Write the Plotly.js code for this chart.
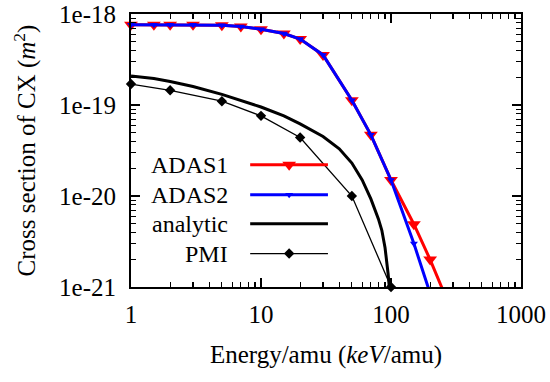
<!DOCTYPE html>
<html>
<head>
<meta charset="utf-8">
<script src="https://cdn.plot.ly/plotly-3.0.1.min.js"></script>
<style>html,body{margin:0;padding:0;background:#fff;}#chart{width:550px;height:382px;}</style>
</head>
<body>
<div id="chart"></div>
<script>
// ---- data ----
const adasEnergy = [1, 1.5, 2, 3, 5, 7, 10, 15, 20, 30, 50, 70, 100, 150, 200, 300];
const adas1 = [7.6e-19, 7.6e-19, 7.6e-19, 7.6e-19, 7.5e-19, 7.3e-19, 6.8e-19, 6.1e-19, 5.3e-19, 3.55e-19, 1.13e-19, 4.7e-20, 1.5e-20, 4.9e-21, 2.0e-21, 5.0e-22];
const adas2Energy = [1, 1.5, 2, 3, 5, 7, 10, 15, 20, 30, 50, 70, 100, 150, 200];
const adas2 = [7.6e-19, 7.6e-19, 7.6e-19, 7.6e-19, 7.5e-19, 7.3e-19, 6.8e-19, 6.1e-19, 5.3e-19, 3.55e-19, 1.13e-19, 4.7e-20, 1.5e-20, 3.0e-21, 8.5e-22];
const analyticEnergy = [1, 1.5, 2, 3, 5, 7, 10, 15, 20, 30, 40, 50, 60, 70, 80, 85, 90, 95, 97, 99];
const analytic = [2.08e-19, 1.95e-19, 1.81e-19, 1.6e-19, 1.31e-19, 1.12e-19, 9.5e-20, 7.6e-20, 6.2e-20, 4.5e-20, 3.3e-20, 2.3e-20, 1.5e-20, 9.3e-21, 5.6e-21, 4.2e-21, 2.7e-21, 1.4e-21, 1.0e-21, 4e-22];
const pmiEnergy = [1, 2, 5, 10, 20, 50, 100];
const pmi = [1.7e-19, 1.45e-19, 1.1e-19, 7.6e-20, 4.4e-20, 1.0e-20, 1.0e-21];
const seriesNames = ['ADAS1', 'ADAS2', 'analytic', 'PMI'];
const xTickVals = [1, 10, 100, 1000];
const xTickText = ['1', '10', '100', '1000'];
const yTickVals = [1e-18, 1e-19, 1e-20, 1e-21];
const yTickText = ['1e-18', '1e-19', '1e-20', '1e-21'];

const YMIN = 1e-21;
function inRange(xs, ys) {
  const ox = [], oy = [];
  for (let i = 0; i < xs.length; i++) if (ys[i] >= YMIN * 0.999) { ox.push(xs[i]); oy.push(ys[i]); }
  return {x: ox, y: oy};
}

const RED = '#ff0000', BLUE = '#0000ff', BLACK = '#000000';
const FONT = 'Times New Roman, Times, Liberation Serif, Tinos, Nimbus Roman, FreeSerif, Noto Serif, DejaVu Serif, serif';

const a1m = inRange(adasEnergy, adas1);
const a2m = inRange(adas2Energy, adas2);
const pm = inRange(pmiEnergy, pmi);

const traces = [
  {x: adasEnergy, y: adas1, mode: 'lines', line: {color: RED, width: 3}, showlegend: false, hoverinfo: 'skip'},
  {x: a1m.x, y: a1m.y, mode: 'markers', marker: {symbol: 'triangle-down', size: 12, color: RED}, cliponaxis: false, showlegend: false},
  {x: adas2Energy, y: adas2, mode: 'lines', line: {color: BLUE, width: 3}, showlegend: false},
  {x: a2m.x, y: a2m.y, mode: 'markers', marker: {symbol: 'triangle-down', size: 7, color: BLUE}, cliponaxis: false, showlegend: false},
  {x: analyticEnergy, y: analytic, mode: 'lines', line: {color: BLACK, width: 3}, showlegend: false},
  {x: pmiEnergy, y: pmi, mode: 'lines', line: {color: BLACK, width: 1.3}, showlegend: false},
  {x: pm.x, y: pm.y, mode: 'markers', marker: {symbol: 'diamond', size: 8, color: BLACK}, cliponaxis: false, showlegend: false}
];

// ---- custom legend (text left, sample right, like gnuplot) ----
const legRowY = [0.448, 0.338, 0.232, 0.1225];
const legTextX = 0.2545, legLineX0 = 0.3056, legLineX1 = 0.505, legMarkX = 0.4055;
const legStyles = [
  {color: RED, width: 3, sym: 'triangle-down', size: 12},
  {color: BLUE, width: 3, sym: 'triangle-down', size: 7},
  {color: BLACK, width: 3, sym: null},
  {color: BLACK, width: 1.3, sym: 'diamond', size: 8}
];
const shapes = [], annotations = [];
seriesNames.forEach((name, i) => {
  const st = legStyles[i];
  annotations.push({xref: 'paper', yref: 'paper', x: legTextX, y: legRowY[i], xanchor: 'right', yanchor: 'middle',
    text: name, showarrow: false, font: {family: FONT, size: 24, color: '#000'}});
  shapes.push({type: 'line', xref: 'paper', yref: 'paper', x0: legLineX0, x1: legLineX1, y0: legRowY[i], y1: legRowY[i],
    line: {color: st.color, width: st.width}});
  if (st.sym) {
    traces.push({x: [legMarkX], y: [legRowY[i]], xaxis: 'x2', yaxis: 'y2', mode: 'markers',
      marker: {symbol: st.sym, size: st.size, color: st.color}, showlegend: false, hoverinfo: 'skip', cliponaxis: false});
  }
});

const minorX = [];
[1, 10, 100].forEach(d => { for (let k = 2; k <= 9; k++) minorX.push(d * k); });
const minorY = [];
[1e-21, 1e-20, 1e-19].forEach(d => { for (let k = 2; k <= 9; k++) minorY.push(d * k); });

const axisCommon = {
  type: 'log', showgrid: false, zeroline: false, showline: true, linecolor: '#000', linewidth: 2,
  mirror: 'allticks', ticks: 'inside', ticklen: 9, tickwidth: 1.3, tickcolor: '#000',
  tickfont: {family: FONT, size: 25, color: '#000'}
};

const layout = {
  width: 550, height: 382,
  font: {family: FONT, color: '#000'},
  margin: {l: 130.5, r: 28.5, t: 14, b: 94.5},
  paper_bgcolor: '#fff', plot_bgcolor: '#fff',
  showlegend: false,
  xaxis: Object.assign({}, axisCommon, {
    range: [0, 3], tickvals: xTickVals, ticktext: xTickText, ticklabelstandoff: 4,
    minor: {tickvals: minorX, ticks: 'inside', ticklen: 5, tickwidth: 1.2, tickcolor: '#000'},
    title: {text: 'Energy/amu (<i>keV</i>/amu)', font: {family: FONT, size: 25, color: '#000'}, standoff: 18}
  }),
  yaxis: Object.assign({}, axisCommon, {
    range: [-21, -18], tickvals: yTickVals, ticktext: yTickText, ticklabelstandoff: 8,
    minor: {tickvals: minorY, ticks: 'inside', ticklen: 5, tickwidth: 1.2, tickcolor: '#000'},
    title: {text: 'Cross section of CX (<i>m</i><sup>2</sup>)', font: {family: FONT, size: 25, color: '#000'}, standoff: 16}
  }),
  xaxis2: {overlaying: 'x', range: [0, 1], visible: false, fixedrange: true},
  yaxis2: {overlaying: 'y', range: [0, 1], visible: false, fixedrange: true},
  shapes: shapes,
  annotations: annotations
};

Plotly.newPlot('chart', traces, layout, {staticPlot: true});
</script>
</body>
</html>
